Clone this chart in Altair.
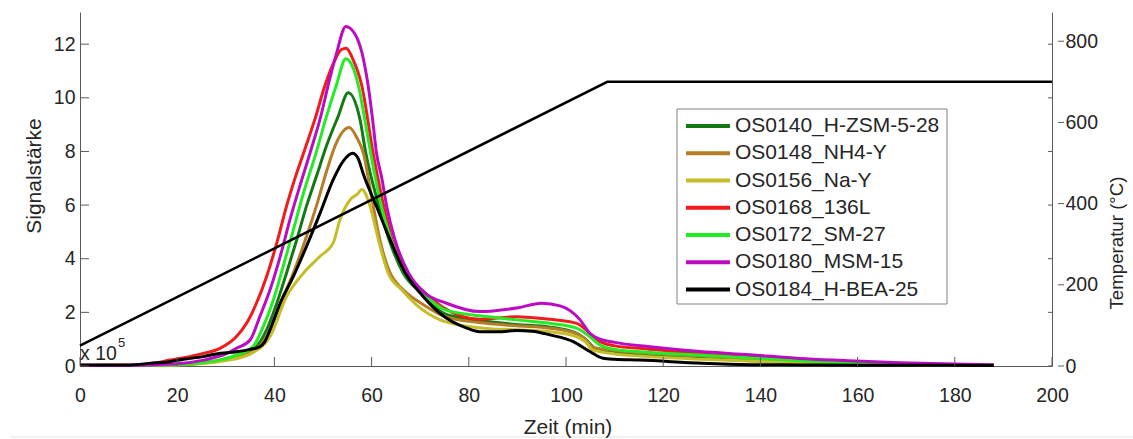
import altair as alt
import pandas as pd

# ---------------- data ----------------
names = ["OS0140_H-ZSM-5-28", "OS0148_NH4-Y", "OS0156_Na-Y", "OS0168_136L",
         "OS0172_SM-27", "OS0180_MSM-15", "OS0184_H-BEA-25"]
colors = ["#137a13", "#b57e26", "#c5be2a", "#f21a1a", "#24ec24", "#bb0cc4", "#000000"]

t_zsm = [0, 10, 20, 28, 32, 35.6, 38.4, 40.5, 42.5, 44.6, 46.6, 48.7, 50.7, 53.1, 55.2, 57.6, 58.8, 61.5,
         63.6, 66.5, 70.2, 75, 80, 89.8, 96.7, 102.2, 104, 106, 110, 115.2, 128, 138, 148, 160, 175, 188]
v_zsm = [0.02, 0.02, 0.05, 0.18, 0.35, 0.6, 1.35, 2.34, 3.47, 4.71, 5.96, 7.1, 8.2, 9.3, 10.19, 9.2, 7.95, 5.96,
         4.71, 3.47, 2.72, 1.95, 1.75, 1.55, 1.45, 1.22, 1.0, 0.66, 0.5, 0.41, 0.28, 0.2, 0.14, 0.08, 0.05, 0.03]

t_nh4 = [0, 10, 20, 30, 35.6, 38.4, 41.2, 43.9, 46.6, 48.7, 50.8, 52.7, 55.4, 57, 58.3, 60, 61.7, 63.8,
         66.2, 70.5, 75, 82, 89.8, 96.7, 102.2, 104, 105.5, 110, 115.2, 128, 138, 148, 160, 175, 188]
v_nh4 = [0.02, 0.02, 0.05, 0.25, 0.55, 1.1, 2.34, 3.47, 4.83, 6.0, 7.3, 8.3, 8.89, 8.5, 7.95, 6.3, 4.71, 3.47,
         2.9, 2.3, 1.85, 1.62, 1.5, 1.41, 1.2, 1.0, 0.7, 0.58, 0.5, 0.38, 0.28, 0.18, 0.1, 0.05, 0.03]

t_nay = [0, 10, 20, 30, 35.6, 39.1, 42.5, 46, 49.4, 52.1, 53.5, 55.6, 57, 58, 59.7, 61.4, 63.4, 66.2,
         69.6, 74.1, 78.2, 83, 89.8, 96.7, 102.2, 104, 105.5, 110, 115.2, 128, 138, 148, 160, 175, 188]
v_nay = [0.02, 0.02, 0.04, 0.2, 0.5, 1.1, 2.59, 3.47, 4.09, 4.59, 5.46, 6.2, 6.4, 6.58, 5.96, 4.71, 3.47, 2.84,
         2.22, 1.72, 1.53, 1.41, 1.35, 1.28, 1.09, 0.9, 0.6, 0.45, 0.37, 0.25, 0.18, 0.12, 0.07, 0.04, 0.03]

t_136 = [0, 10, 15, 18.5, 22, 25.4, 28.8, 32.2, 34.3, 36.3, 38.4, 40.5, 42.5, 44.6, 46.5, 48.5, 50.3, 52.3,
         53.8, 54.8, 56, 58, 60.3, 62.5, 64.2, 67.2, 71, 75, 82.3, 89.8, 96.7, 102.2, 104.2, 106.3, 110, 115.2,
         128, 138, 148, 160, 175, 188]
v_136 = [0.03, 0.04, 0.1, 0.22, 0.33, 0.47, 0.66, 1.1, 1.6, 2.34, 3.34, 4.59, 5.96, 7.2, 8.2, 9.3, 10.4, 11.35,
         11.8, 11.85, 11.5, 10.44, 7.95, 5.96, 4.71, 3.47, 2.72, 2.15, 1.74, 1.84, 1.74, 1.59, 1.34, 0.97, 0.75,
         0.66, 0.45, 0.33, 0.22, 0.12, 0.06, 0.04]

t_sm = [0, 10, 20, 28, 32.2, 35.6, 37.7, 39.8, 41.8, 43.9, 46, 48.5, 50.7, 52.8, 54.7, 56, 57.3, 58.6, 59.8,
        62, 64, 66.8, 70.5, 75, 82.3, 89.8, 96.7, 102.2, 104.9, 107, 110, 115.2, 128, 138, 148, 160, 175, 188]
v_sm = [0.02, 0.02, 0.05, 0.2, 0.41, 0.72, 1.47, 2.47, 3.71, 5.08, 6.46, 7.9, 9.3, 10.5, 11.46, 11.2, 10.44,
        9.2, 7.95, 5.96, 4.71, 3.47, 2.72, 2.1, 1.87, 1.72, 1.59, 1.41, 1.09, 0.78, 0.62, 0.53, 0.4, 0.3, 0.2,
        0.1, 0.06, 0.04]

t_msm = [0, 10, 20, 25.4, 30, 32.2, 35, 37, 39.1, 41.2, 43.2, 45.3, 47.6, 49.6, 51.1, 52.7, 54.7, 56.5, 58,
         59.3, 60.2, 61, 62.1, 63.1, 64.8, 67.6, 71, 75.4, 82.3, 89.8, 95, 98.8, 102.9, 104.9, 107, 110,
         117.3, 127.6, 137.9, 148, 158, 168.7, 180, 188]
v_msm = [0.02, 0.02, 0.08, 0.22, 0.45, 0.66, 0.97, 1.84, 2.84, 4.09, 5.46, 6.75, 8.1, 9.35, 10.5, 11.6, 12.66,
         12.4, 11.69, 10.44, 9.2, 7.95, 7.0, 5.96, 4.71, 3.47, 2.72, 2.34, 2.03, 2.16, 2.34, 2.24, 1.72, 1.22,
         1.0, 0.88, 0.72, 0.54, 0.42, 0.28, 0.2, 0.12, 0.07, 0.05]

t_bea = [0, 10, 15.8, 18.5, 21.3, 25.4, 28, 32.2, 35, 37, 38, 39.1, 41.2, 43.9, 46.6, 49.4, 52.1, 54.2,
         56.1, 57.2, 58.4, 61, 63.8, 66.9, 70, 74, 79.6, 82.3, 86, 89.8, 93, 96.7, 101.5, 104.9, 107.6, 110,
         115.2, 128, 138, 148, 160, 175, 188]
v_bea = [0.04, 0.04, 0.12, 0.16, 0.25, 0.35, 0.45, 0.53, 0.62, 0.72, 0.9, 1.35, 2.34, 3.34, 4.46, 5.7, 6.95,
         7.65, 7.93, 7.75, 7.1, 5.96, 4.71, 3.47, 2.72, 1.97, 1.41, 1.28, 1.28, 1.32, 1.3, 1.16, 0.91, 0.54,
         0.29, 0.25, 0.22, 0.1, 0.05, 0.04, 0.03, 0.03, 0.02]

temp_t = [0, 108.5, 200]
temp_v = [50, 700, 700]

x_ticks = [0, 20, 40, 60, 80, 100, 120, 140, 160, 180, 200]
left_ticks = [0, 2, 4, 6, 8, 10, 12]
right_ticks = [0, 200, 400, 600, 800]

# ---------------- tables ----------------
series_t = [t_zsm, t_nh4, t_nay, t_136, t_sm, t_msm, t_bea]
series_v = [v_zsm, v_nh4, v_nay, v_136, v_sm, v_msm, v_bea]
rows = []
for name, ts, vs in zip(names, series_t, series_v):
    if len(ts) != len(vs):
        raise ValueError(name)
    for t, v in zip(ts, vs):
        rows.append({"series": name, "t": t, "v": v})
sig_df = pd.DataFrame(rows)
temp_df = pd.DataFrame({"t": temp_t, "T": temp_v})
leg_df = pd.DataFrame({"series": names, "row": list(range(len(names)))})
dummy = pd.DataFrame({"d": [0]})

# ---------------- styling ----------------
W, H = 972, 354
FONT = "Liberation Sans"
TXT = "#262626"
AX = "#5a5a5a"

x_scale = alt.Scale(domain=[0, 200], nice=False, zero=False)
y_left = alt.Scale(domain=[0, 13.2], nice=False)
y_right = alt.Scale(domain=[0, 872], nice=False)
color_scale = alt.Scale(domain=names, range=colors)

x_axis = alt.Axis(values=x_ticks, title=None, ticks=False, tickSize=0, labelPadding=20,
                  labelFontSize=19.5, labelFont=FONT, labelColor=TXT, domainColor=AX,
                  grid=False, labelFlush=False, labelOverlap=False)
left_axis = alt.Axis(values=left_ticks, title=None, orient="left", ticks=False, tickSize=0,
                     labelPadding=5, labelFontSize=19.5, labelFont=FONT, labelColor=TXT,
                     domainColor=AX, grid=False, labelOverlap=False)
right_axis = alt.Axis(values=right_ticks, title=None, orient="right", ticks=False, tickSize=0,
                      labelPadding=13, labelFontSize=19.5, labelFont=FONT, labelColor=TXT,
                      domainColor=AX, grid=False, labelOverlap=False)

# ---------------- left (signal) group ----------------
lines = alt.Chart(sig_df).mark_line(strokeWidth=3, interpolate="monotone").encode(
    x=alt.X("t:Q", scale=x_scale, axis=x_axis),
    y=alt.Y("v:Q", scale=y_left, axis=left_axis),
    color=alt.Color("series:N", scale=color_scale, legend=None),
)
lt_df = pd.DataFrame({"v": left_ticks})
lt = alt.Chart(lt_df).mark_rule(color=AX, strokeWidth=1).encode(
    y=alt.Y("v:Q", scale=y_left, axis=left_axis), x=alt.value(0), x2=alt.value(9))
lt_mirror = alt.Chart(lt_df).mark_rule(color=AX, strokeWidth=1).encode(
    y=alt.Y("v:Q", scale=y_left, axis=left_axis), x=alt.value(W - 4), x2=alt.value(W))
bt = alt.Chart(pd.DataFrame({"t": x_ticks})).mark_rule(color=AX, strokeWidth=1).encode(
    x=alt.X("t:Q", scale=x_scale, axis=x_axis), y=alt.value(H - 9), y2=alt.value(H))
left_group = alt.layer(lines, lt, lt_mirror, bt)

# ---------------- right (temperature) group ----------------
temp = alt.Chart(temp_df).mark_line(color="black", strokeWidth=2.5).encode(
    x=alt.X("t:Q", scale=x_scale, axis=x_axis),
    y=alt.Y("T:Q", scale=y_right, axis=right_axis),
)
rt = alt.Chart(pd.DataFrame({"T": right_ticks})).mark_rule(color=AX, strokeWidth=1).encode(
    y=alt.Y("T:Q", scale=y_right, axis=right_axis), x=alt.value(W + 6), x2=alt.value(W + 12))
right_group = alt.layer(temp, rt)

# ---------------- legend + texts ----------------
row_scale = alt.Scale(domain=[0, len(names) - 1], range=[114, 277.5], nice=False, zero=False)
box = alt.Chart(dummy).mark_rect(fill="white", stroke="#808080", strokeWidth=1).encode(
    x=alt.value(597), x2=alt.value(867), y=alt.value(97), y2=alt.value(292))
leg_lines = alt.Chart(leg_df).mark_rule(strokeWidth=4).encode(
    y=alt.Y("row:Q", scale=row_scale, axis=None),
    x=alt.value(606), x2=alt.value(650),
    color=alt.Color("series:N", scale=color_scale, legend=None))
leg_text = alt.Chart(leg_df).mark_text(align="left", baseline="middle", fontSize=21,
                                       font=FONT, color=TXT).encode(
    y=alt.Y("row:Q", scale=row_scale, axis=None), x=alt.value(655), text="series:N")


def label(txt, x, y, size, angle=0, align="center", baseline="middle"):
    return alt.Chart(dummy).mark_text(fontSize=size, font=FONT, color=TXT, angle=angle,
                                      align=align, baseline=baseline).encode(
        x=alt.value(x), y=alt.value(y), text=alt.value(txt))


sep = alt.Chart(dummy).mark_rule(color="#e4e4e4", strokeWidth=1).encode(
    x=alt.value(-70), x2=alt.value(W + 81), y=alt.value(425))

texts = [
    label("Signalstärke", -45, 164, 21, angle=270),
    label("Zeit (min)", 488, 422, 21, baseline="alphabetic"),
    label("Temperatur (°C)", 1037, 231, 18.7, angle=270),
    label("x 10", 0, 348, 19.5, align="left", baseline="alphabetic"),
    label("5", 38, 335, 13, align="left", baseline="alphabetic"),
]
legend_group = alt.layer(box, leg_lines, leg_text, sep, *texts)

chart = alt.layer(left_group, right_group, legend_group).resolve_scale(
    y="independent"
).properties(
    width=W, height=H,
    padding={"left": 80, "top": 12, "right": 81, "bottom": 73},
    autosize=alt.AutoSizeParams(type="none"),
    background="white",
).configure_view(stroke=None)

chart.save("out.html", embed_options={"renderer": "svg", "actions": False})
